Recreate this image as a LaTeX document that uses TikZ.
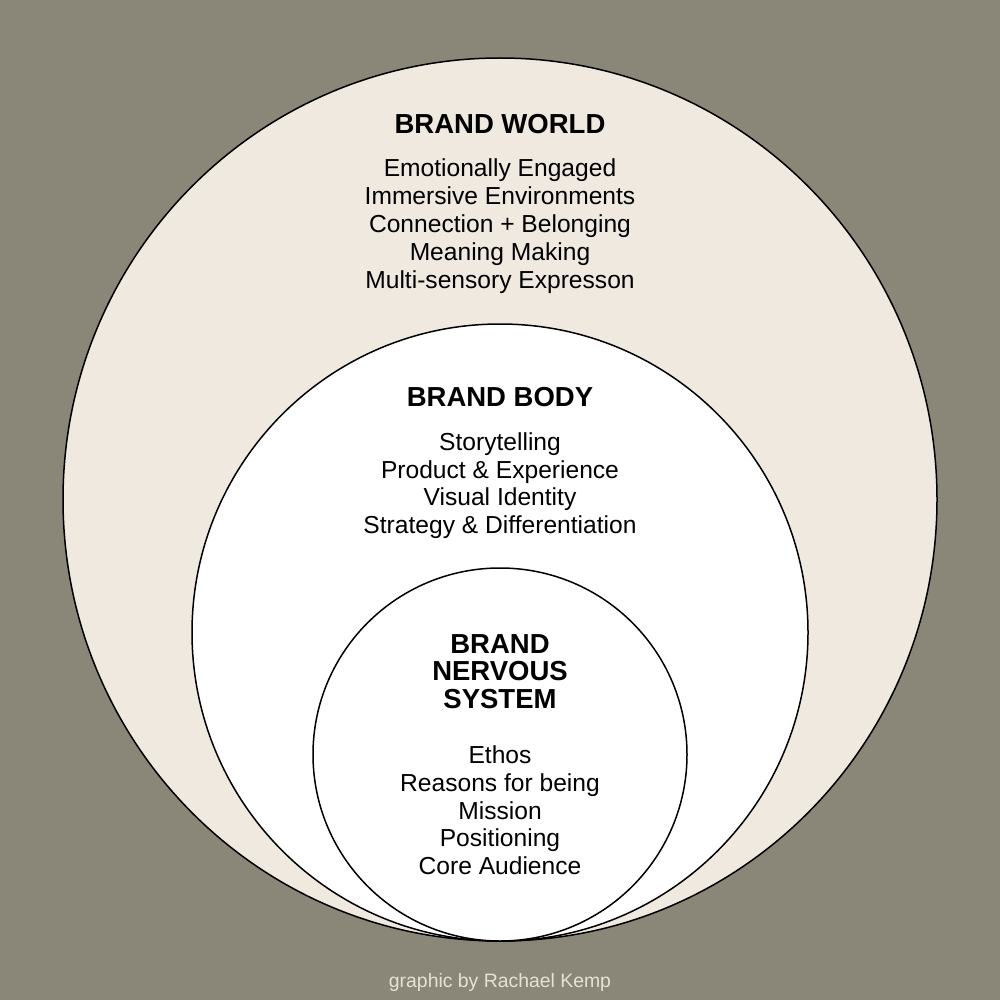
\documentclass[tikz,border=0pt]{standalone}
\usepackage{fontspec}
\setmainfont{Liberation Sans}
\definecolor{bgc}{RGB}{138,134,120}
\definecolor{cream}{RGB}{239,233,224}
\definecolor{foot}{RGB}{232,226,214}
\begin{document}
\begin{tikzpicture}[x=1pt,y=-1pt,
  ring/.style={draw=black,line width=1.5pt},
  ttl/.style={anchor=base,inner sep=0pt,font=\fontsize{27.5}{30}\selectfont\bfseries},
  itm/.style={anchor=base,inner sep=0pt,font=\fontsize{24.6}{28}\selectfont},
]
\useasboundingbox (0,0) rectangle (1000,1000);
\fill[bgc] (0,0) rectangle (1000,1000);
\draw[ring,fill=cream] (500,499.5) ellipse[x radius=437pt,y radius=441.5pt];
\draw[ring,fill=white] (500,632.5) ellipse[x radius=308pt,y radius=308.5pt];
\draw[ring,fill=white] (500,754.5) ellipse[x radius=187pt,y radius=186.5pt];
% Brand world
\node[ttl] (wt) at (500,134) {BRAND WORLD};
\node[itm] (w1) at (500,177) {Emotionally Engaged};
\node[itm] (w2) at (500,205) {Immersive Environments};
\node[itm] (w3) at (500,232.5) {Connection + Belonging};
\node[itm] (w4) at (500,260) {Meaning Making};
\node[itm] (w5) at (500,288) {Multi-sensory Expresson};
% Brand body
\node[ttl] (bt) at (500,406) {BRAND BODY};
\node[itm] (b1) at (500,450) {Storytelling};
\node[itm] (b2) at (500,478) {Product \& Experience};
\node[itm] (b3) at (500,505.5) {Visual Identity};
\node[itm] (b4) at (500,533) {Strategy \& Differentiation};
% Nervous system
\node[ttl] (n1) at (500,653) {BRAND};
\node[ttl] (n2) at (500,680.5) {NERVOUS};
\node[ttl] (n3) at (500,708) {SYSTEM};
\node[itm] (s1) at (500,763.5) {Ethos};
\node[itm] (s2) at (500,791) {Reasons for being};
\node[itm] (s3) at (500,819) {Mission};
\node[itm] (s4) at (500,846.5) {Positioning};
\node[itm] (s5) at (500,874) {Core Audience};
% footer
\node[anchor=base,inner sep=0pt,text=foot,font=\fontsize{19.4}{22}\selectfont] (ft) at (500,987) {graphic by Rachael Kemp};
\end{tikzpicture}
\end{document}
